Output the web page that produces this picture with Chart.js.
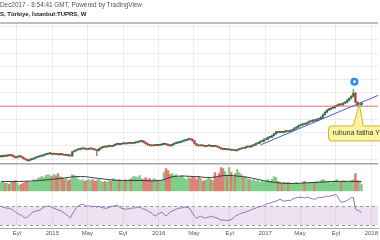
<!DOCTYPE html>
<html>
<head>
<meta charset="utf-8">
<script src="https://cdn.jsdelivr.net/npm/chart.js@4.4.0/dist/chart.umd.min.js"></script>
<style>
  html, body { margin: 0; padding: 0; background: #fff; }
  #wrap { position: relative; width: 380px; height: 240px; overflow: hidden; }
  canvas { position: absolute; left: 0; top: 0; }
  .hdr { position: absolute; left: 0; white-space: nowrap; font-family: "Liberation Sans", Arial, sans-serif; }
  #hdr1 { top: 1px; font-size: 6.4px; color: #555; }
  #hdr2 { top: 11px; font-size: 6px; font-weight: bold; color: #222; }
</style>
</head>
<body>
<div id="wrap">
  <canvas id="chart" width="380" height="240"></canvas>
  <div class="hdr" id="hdr1">Dec2017 - 8:54:41 GMT, Powered by TradingView</div>
  <div class="hdr" id="hdr2">S, Türkiye, İstanbul:TUPRS, W</div>
</div>
<script>
// ========== DATA (weekly, TUPRS) ==========
const closes = [
  44.0, 45.4, 44.6, 46.0, 45.4, 46.0, 44.0, 42.4, 44.0, 44.6,
  43.0, 40.9, 39.4, 37.9, 39.4, 40.2, 41.6, 43.0, 44.0, 44.6,
  45.4, 46.9, 47.6, 48.4, 48.9, 47.6, 48.4, 47.6, 46.9, 47.6,
  46.9, 46.0, 46.9, 45.4, 45.0, 51.3, 52.8, 54.3, 55.0, 55.8,
  56.5, 55.8, 55.0, 55.8, 56.3, 55.0, 54.3, 52.8, 55.8, 57.6,
  58.8, 58.4, 59.5, 60.3, 59.5, 61.0, 62.5, 63.3, 62.5, 63.3,
  64.0, 63.3, 64.0, 64.8, 64.0, 64.8, 65.5, 66.3, 67.0, 67.8,
  65.5, 63.3, 61.8, 61.0, 60.3, 61.0, 61.8, 61.0, 61.8, 62.5,
  63.3, 62.5, 61.0, 60.3, 62.5, 64.0, 64.8, 65.5, 66.3, 67.8,
  68.5, 69.3, 70.7, 70.0, 67.8, 63.3, 61.0, 60.3, 61.0, 60.3,
  59.5, 60.3, 60.8, 59.5, 60.3, 59.5, 58.8, 57.3, 55.8, 55.0,
  55.4, 54.3, 54.6, 53.6, 53.9, 52.8, 54.6, 55.4, 56.9, 56.6,
  58.2, 59.1, 58.7, 60.5, 61.2, 63.5, 64.1, 66.6, 67.2, 69.8,
  70.1, 72.9, 73.2, 75.6, 78.2, 81.2, 80.4, 81.2, 80.4, 81.9,
  82.7, 81.9, 83.4, 84.2, 86.9, 88.1, 90.6, 91.2, 93.5, 92.8,
  94.9, 96.6, 97.1, 98.8, 98.2, 100.3, 100.9, 103.2, 107.1, 111.0,
  114.0, 115.5, 117.0, 117.8, 120.0, 121.5, 123.0, 122.2, 124.5, 126.0,
  129.0, 131.9, 134.9, 139.4, 126.0, 121.5, 122.2, 124.5
];
const highs = [
  45.0, 46.2, 46.1, 46.8, 46.9, 47.0, 46.5, 44.6, 44.8, 45.5,
  45.0, 43.6, 41.5, 40.0, 40.2, 41.0, 42.3, 43.8, 44.9, 45.6,
  46.2, 47.6, 48.5, 49.3, 49.9, 49.5, 49.2, 49.0, 48.3, 48.4,
  48.2, 47.5, 47.7, 47.4, 46.2, 52.0, 53.7, 55.1, 56.0, 56.8,
  57.4, 57.3, 56.6, 56.7, 57.2, 57.0, 55.8, 55.0, 56.5, 58.4,
  59.6, 59.8, 60.3, 61.2, 61.0, 61.8, 63.4, 64.2, 64.0, 64.1,
  64.9, 64.8, 64.9, 65.6, 65.5, 65.6, 66.4, 67.1, 67.9, 68.9,
  68.4, 66.1, 64.0, 62.6, 61.8, 61.8, 62.6, 62.5, 62.7, 63.3,
  64.2, 64.0, 63.1, 61.8, 63.3, 64.9, 65.7, 66.4, 67.1, 68.6,
  69.4, 70.2, 71.8, 71.6, 70.8, 68.4, 64.0, 61.8, 61.9, 61.7,
  61.0, 61.1, 61.6, 61.4, 61.0, 61.0, 60.2, 59.4, 58.0, 56.5,
  56.2, 56.0, 55.4, 55.3, 54.7, 54.5, 55.3, 56.2, 57.7, 57.8,
  59.0, 59.9, 60.0, 61.3, 62.1, 64.3, 65.0, 67.4, 68.1, 70.6,
  71.0, 73.7, 74.2, 76.5, 79.1, 82.2, 82.0, 82.1, 82.0, 82.8,
  83.6, 83.5, 84.3, 85.1, 87.8, 89.0, 91.5, 92.2, 94.4, 94.4,
  95.8, 97.5, 98.1, 99.7, 99.8, 101.2, 101.9, 104.2, 108.1, 112.0,
  115.0, 116.6, 118.0, 119.0, 121.1, 122.6, 124.1, 124.0, 125.6, 127.2,
  130.2, 133.1, 136.3, 145.4, 141.0, 127.0, 123.8, 125.5
];
const lows = [
  43.2, 43.3, 43.9, 44.0, 44.7, 44.9, 43.2, 41.5, 41.8, 43.3,
  42.2, 40.0, 38.6, 37.0, 37.2, 38.7, 39.6, 41.0, 42.3, 43.3,
  44.0, 44.8, 46.2, 47.0, 47.7, 46.9, 47.0, 46.8, 46.1, 46.2,
  46.0, 45.3, 45.4, 44.6, 44.1, 44.6, 50.6, 52.0, 53.5, 54.2,
  55.0, 55.0, 54.1, 54.3, 55.0, 54.2, 53.4, 45.5, 52.0, 55.0,
  57.0, 57.6, 57.7, 58.8, 58.6, 58.8, 60.3, 61.8, 61.7, 61.8,
  62.6, 62.5, 62.6, 63.2, 63.3, 63.3, 64.0, 64.8, 65.6, 66.3,
  64.8, 62.5, 61.0, 60.1, 59.4, 59.6, 60.3, 60.2, 60.3, 61.0,
  61.8, 61.7, 60.2, 59.5, 59.6, 61.8, 63.3, 64.0, 64.8, 65.6,
  67.0, 67.8, 68.6, 69.2, 67.0, 62.5, 60.2, 59.5, 59.6, 59.5,
  58.7, 58.8, 59.6, 58.8, 58.7, 58.8, 58.0, 56.5, 55.0, 54.2,
  54.3, 53.5, 53.6, 52.8, 52.9, 52.0, 52.1, 53.9, 54.7, 55.8,
  55.9, 57.4, 57.9, 58.0, 59.7, 60.5, 62.7, 63.4, 65.8, 66.5,
  69.0, 69.4, 72.0, 72.5, 74.8, 77.5, 79.5, 79.6, 79.6, 79.7,
  81.0, 81.1, 81.1, 82.6, 83.5, 86.1, 87.4, 89.8, 90.5, 92.0,
  92.0, 94.1, 95.8, 96.4, 97.3, 97.4, 99.4, 100.1, 102.4, 106.3,
  110.1, 113.1, 114.6, 116.1, 117.0, 119.1, 120.6, 121.2, 121.3, 123.6,
  125.1, 128.1, 131.0, 134.0, 124.8, 120.0, 120.6, 121.6
];
const volumes = [
  9, 10, 8, 8, 7, 9, 10, 11, 8, 6,
  7, 8, 9, 10, 9, 9, 12, 11, 13, 14,
  15, 14, 16, 17, 16, 15, 17, 16, 18, 15,
  14, 12, 13, 11, 12, 17, 16, 14, 12, 11,
  12, 10, 11, 12, 11, 12, 10, 11, 12, 10,
  9, 10, 9, 11, 10, 13, 12, 11, 12, 10,
  11, 12, 10, 12, 13, 15, 15, 14, 16, 13,
  12, 14, 12, 13, 11, 13, 12, 11, 10, 11,
  19, 23, 21, 17, 18, 16, 17, 14, 15, 16,
  13, 12, 14, 13, 15, 14, 12, 15, 13, 10,
  11, 12, 14, 12, 11, 19, 14, 18, 24, 23,
  20, 15, 24, 19, 15, 18, 22, 19, 17, 14,
  15, 13, 12, 11, 12, 10, 11, 9, 10, 9,
  11, 12, 10, 12, 15, 14, 10, 9, 8, 9,
  8, 9, 7, 8, 8, 9, 8, 7, 9, 10,
  8, 9, 9, 8, 9, 10, 9, 11, 12, 11,
  9, 10, 8, 9, 11, 12, 9, 10, 11, 10,
  9, 10, 11, 12, 18, 11, 10, 7
];
// volume moving average at a few weeks
const maWeeks = [0, 9, 19, 29, 39, 48, 58, 68, 78, 85, 95, 103, 110, 118, 124, 131, 141, 154, 164, 177];
const maValues = [10, 10, 11, 13, 15, 13, 11, 11, 11, 15, 15, 14, 16, 15, 13, 10, 8, 9, 10, 10];
const rsiValues = [
  70, 67.9, 66.8, 65.8, 65.8, 63.7, 61.6, 57.4, 55.3, 52.1,
  51.1, 46.8, 44.7, 46.8, 51.1, 55.3, 58.4, 59.5, 60.5, 61.6,
  64.7, 67.9, 70, 70, 70, 67.9, 65.8, 63.7, 61.6, 61.6,
  58.4, 55.3, 52.1, 48.9, 44.7, 53.2, 59.5, 67.9, 71, 73.2,
  74.2, 72.1, 70, 71, 70, 68.9, 70, 67.9, 70, 67.9,
  66.8, 65.8, 65.8, 67.9, 68.9, 70, 71, 72.1, 68.9, 65.8,
  64.7, 63.7, 63.7, 64.7, 65.8, 65.8, 66.8, 67.9, 67.9, 65.8,
  63.7, 62.6, 60.5, 57.4, 55.3, 51.1, 48.9, 53.2, 55.3, 57.4,
  53.2, 48.9, 53.2, 57.4, 59.5, 61.6, 63.7, 65.8, 65.8, 66.8,
  67.9, 67.9, 66.8, 63.7, 55.3, 48.9, 44.7, 46.8, 48.9, 46.8,
  44.7, 45.7, 46.8, 48.9, 47.9, 45.7, 44.7, 42.6, 40.5, 40.5,
  40.5, 39.5, 40.5, 41.6, 44.7, 48.9, 51.1, 53.2, 55.3, 56.3,
  57.4, 59.5, 60.5, 62.6, 64.7, 65.8, 67.9, 68.9, 70, 72.1,
  74.2, 75.3, 76.3, 78.4, 79.5, 80.5, 82.6, 84.7, 82.6, 80.5,
  81.5, 82.6, 81.5, 84.7, 86.8, 87.9, 88.9, 88.9, 88.9, 87.9,
  88.9, 88.9, 86.8, 85.7, 84.7, 86.8, 88.9, 88.9, 88.9, 90,
  91.1, 91.1, 92.1, 93.2, 94.2, 93.2, 84.7, 78.4, 79.5, 80.5,
  82.6, 85.7, 88.9, 87.9, 63.7, 61.6, 59.5, 56.3
];

const tickWeeks = [7.8, 25.2, 42.4, 60.0, 77.4, 94.7, 112.3, 129.7, 146.8, 164.4, 181.8];
const tickLabels = ['Eyl', '2015', 'May', 'Eyl', '2016', 'May', 'Eyl', '2017', 'May', 'Eyl', '2018'];
const priceTicks = [40, 60, 80, 100, 120, 140, 160, 180, 200, 220, 240];

// drawings on the chart
const levelPrice = 120;
const trendWeeks = [127.5, 185.2];
const trendPrices = [61.8, 136.4];
const flagWeek = 173.5, flagPrice = 157;
const noteText = 'ruhuna fatiha Y';
const noteWeek = 175.9, notePrice = 123;
const noteBoxWeek = 160.8, noteBoxPrice = 90.2;

const xMin = -0.5, xMax = 185.2;

// ========== DERIVED ==========
const weeks = closes.map((c, i) => i);
const opens = closes.map((c, i) => i === 0 ? c : closes[i - 1]);
const isUp = weeks.map(i => closes[i] >= opens[i]);

// ========== DECOR PLUGIN ==========
const decor = {
    id: 'decor',
    beforeDatasetsDraw(chart) {
        const {ctx, chartArea, scales} = chart;
        const y70 = scales.rsi.getPixelForValue(70);
        const y30 = scales.rsi.getPixelForValue(30);
        ctx.save();
        ctx.fillStyle = 'rgba(150, 80, 180, 0.17)';
        ctx.fillRect(chartArea.left, y70, chartArea.right - chartArea.left, y30 - y70);
        ctx.strokeStyle = '#9a9a9a';
        ctx.lineWidth = 1;
        ctx.setLineDash([3, 3]);
        [y70, y30].forEach(y => {
            ctx.beginPath();
            ctx.moveTo(chartArea.left, Math.round(y) + 0.5);
            ctx.lineTo(chartArea.right, Math.round(y) + 0.5);
            ctx.stroke();
        });
        ctx.restore();
    },
    afterDatasetsDraw(chart) {
        const {ctx, chartArea, scales} = chart;
        const x = scales.x, y = scales.y;
        ctx.save();

        // pane separators
        ctx.strokeStyle = '#a8a8a8';
        ctx.lineWidth = 1.5;
        [chartArea.top, scales.vol.top].forEach(py => {
            ctx.beginPath();
            ctx.moveTo(chartArea.left, py);
            ctx.lineTo(chartArea.right, py);
            ctx.stroke();
        });

        // blue flag marker
        const fx = x.getPixelForValue(flagWeek), fy = y.getPixelForValue(flagPrice);
        ctx.fillStyle = '#2e8ee8';
        ctx.beginPath();
        ctx.arc(fx, fy, 4, 0, Math.PI * 2);
        ctx.fill();
        ctx.fillStyle = '#fff';
        ctx.beginPath();
        ctx.arc(fx, fy, 1.4, 0, Math.PI * 2);
        ctx.fill();

        // callout
        const tx = x.getPixelForValue(noteWeek), ty = y.getPixelForValue(notePrice);
        const bx = x.getPixelForValue(noteBoxWeek), by = y.getPixelForValue(noteBoxPrice);
        ctx.font = '7px "Liberation Sans", Arial, sans-serif';
        const bw = ctx.measureText(noteText).width + 10, bh = 15, r = 3;
        ctx.beginPath();
        ctx.moveTo(bx + r, by);
        ctx.lineTo(tx - 6, by);
        ctx.lineTo(tx, ty);
        ctx.lineTo(tx + 4, by);
        ctx.lineTo(bx + bw - r, by);
        ctx.arcTo(bx + bw, by, bx + bw, by + r, r);
        ctx.lineTo(bx + bw, by + bh - r);
        ctx.arcTo(bx + bw, by + bh, bx + bw - r, by + bh, r);
        ctx.lineTo(bx + r, by + bh);
        ctx.arcTo(bx, by + bh, bx, by + bh - r, r);
        ctx.lineTo(bx, by + r);
        ctx.arcTo(bx, by, bx + r, by, r);
        ctx.closePath();
        ctx.fillStyle = '#fcf4a0';
        ctx.fill();
        ctx.strokeStyle = '#cdb422';
        ctx.lineWidth = 1;
        ctx.stroke();
        ctx.fillStyle = '#333';
        ctx.textBaseline = 'middle';
        ctx.fillText(noteText, bx + 4, by + bh / 2);
        ctx.restore();
    }
};

// ========== CHART ==========
const ctx = document.getElementById('chart').getContext('2d');
const myChart = new Chart(ctx, {
    type: 'bar',
    data: {
        datasets: [
            {
                type: 'line',
                data: trendWeeks.map((w, i) => ({x: w, y: trendPrices[i]})),
                borderColor: '#4a5bd0',
                borderWidth: 1,
                pointRadius: 0,
                yAxisID: 'y'
            },
            {
                type: 'line',
                data: [{x: xMin, y: levelPrice}, {x: xMax, y: levelPrice}],
                borderColor: 'rgba(230, 100, 110, 0.85)',
                borderWidth: 1,
                pointRadius: 0,
                yAxisID: 'y'
            },
            {
                // candle bodies
                data: weeks.map(i => ({x: i, y: [opens[i], closes[i]]})),
                backgroundColor: weeks.map(i => isUp[i] ? '#2f6e45' : '#b03f31'),
                barThickness: 1.5,
                minBarLength: 1,
                grouped: false,
                yAxisID: 'y'
            },
            {
                // candle wicks
                data: weeks.map(i => ({x: i, y: [lows[i], highs[i]]})),
                backgroundColor: '#8a8a8a',
                barThickness: 0.8,
                grouped: false,
                yAxisID: 'y'
            },
            {
                type: 'line',
                data: maWeeks.map((w, i) => ({x: w, y: maValues[i]})),
                borderColor: '#3a3a3a',
                borderWidth: 1,
                pointRadius: 0,
                tension: 0.4,
                yAxisID: 'vol'
            },
            {
                data: weeks.map(i => ({x: i, y: volumes[i]})),
                backgroundColor: weeks.map(i => isUp[i] ? '#7dcf88' : '#df7c74'),
                barThickness: 1.8,
                grouped: false,
                yAxisID: 'vol'
            },
            {
                type: 'line',
                data: weeks.map(i => ({x: i, y: rsiValues[i]})),
                borderColor: '#9a6cb8',
                borderWidth: 1,
                pointRadius: 0,
                yAxisID: 'rsi'
            }
        ]
    },
    options: {
        responsive: false,
        animation: false,
        devicePixelRatio: 1,
        layout: { padding: { top: 23, left: 0, right: 0, bottom: 0.8 } },
        plugins: { legend: { display: false }, tooltip: { enabled: false } },
        scales: {
            x: {
                type: 'linear',
                min: xMin,
                max: xMax,
                offset: false,
                grid: { color: '#ececec', drawTicks: false, offset: false },
                border: { color: '#aaa' },
                afterBuildTicks: axis => { axis.ticks = tickWeeks.map(v => ({value: v})); },
                ticks: {
                    autoSkip: false,
                    maxRotation: 0,
                    padding: 2,
                    color: '#555',
                    font: { family: '"Liberation Sans", Arial, sans-serif', size: 6 },
                    callback: (value, index) => tickLabels[index]
                }
            },
            y: {
                type: 'linear',
                position: 'right',
                stack: 'panes',
                stackWeight: 142,
                min: 33.4,
                max: 245.4,
                beginAtZero: false,
                afterBuildTicks: axis => { axis.ticks = priceTicks.map(v => ({value: v})); },
                grid: { color: '#ececec', drawTicks: false },
                border: { display: false },
                ticks: { display: false }
            },
            vol: {
                type: 'linear',
                position: 'right',
                stack: 'panes',
                stackWeight: 28,
                min: 0,
                max: 28,
                grid: { display: false, drawTicks: false },
                border: { display: false },
                ticks: { display: false }
            },
            rsi: {
                type: 'linear',
                position: 'right',
                stack: 'panes',
                stackWeight: 37,
                min: 23.7,
                max: 101.6,
                grid: { display: false, drawTicks: false },
                border: { display: false },
                ticks: { display: false }
            }
        }
    },
    plugins: [decor]
});
</script>
</body>
</html>
